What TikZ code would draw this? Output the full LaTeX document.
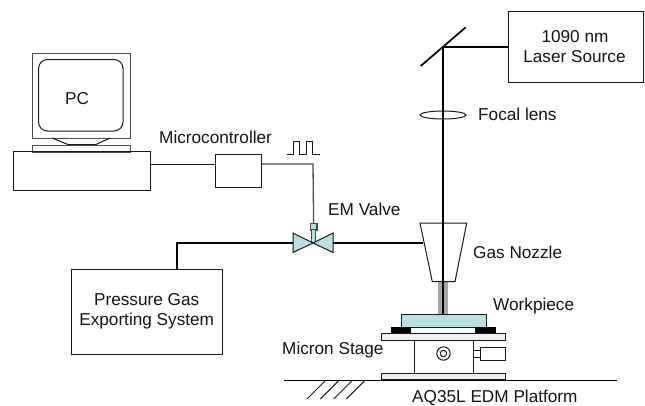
\documentclass[tikz,border=0pt]{standalone}
\usepackage{fontspec}
\setmainfont{Liberation Sans}
\tikzset{
  thin line/.style={draw=black!90,line width=1pt},
  grey line/.style={draw=black!70,line width=1.3pt},
  thick line/.style={draw=black,line width=2.3pt},
  lbl/.style={inner sep=0pt,font=\fontsize{17.2}{20}\selectfont,text=black!92},
  teal fill/.style={fill=tealc,draw=black!90,line width=1pt},
  boxn/.style={draw=black!90,line width=1pt,inner sep=0pt,anchor=north west},
}
\definecolor{tealc}{HTML}{B9DFE1}
\begin{document}
\begin{tikzpicture}[x=1pt,y=-1pt]
\useasboundingbox (0,0) rectangle (645,405);
% PC
\node[boxn,grey line,minimum width=98pt,minimum height=85pt] (monitor) at (32,53) {};
\draw[thin line,rounded corners=9pt] (38.5,59.5) rectangle (123,131);
\node[lbl] (pc) at (77,99) {PC};
\draw[thin line] (52,138) -- (68,144.5) -- (96,144.5) -- (110,138);
\node[boxn,grey line,minimum width=98pt,minimum height=7pt] (monbase) at (32,144.5) {};
\node[boxn,minimum width=137pt,minimum height=39pt] (cpu) at (12.5,151) {};
% Microcontroller
\node[boxn,minimum width=46.3pt,minimum height=32.7pt] (mcu) at (214.7,154.3) {};
\node[lbl,anchor=west] (mculbl) at (159,137.5) {Microcontroller};
\draw[thin line] (cpu.east |- 0,164) coordinate (c1) -- (mcu.west |- c1);
% valve
\coordinate (vc) at (313,243);
\node[boxn,grey line,fill=tealc,minimum width=6.5pt,minimum height=6.5pt] (vtop) at (309.7,223) {};
\draw[grey line] (mcu.east |- c1) -- (313,164) -- (vtop.north);
\draw[draw=black!70,line width=1pt,fill=tealc] (311,229.5) rectangle (315,243);
\draw[teal fill] (vc) -- (293,233) -- (293,252.5) -- cycle;
\draw[teal fill] (vc) -- (333,233) -- (333,252.5) -- cycle;
\node[lbl,anchor=west] (emv) at (328,209) {EM Valve};
% pulse
\draw[thin line] (286.7,154.3) -- (293.3,154.3) -- (293.3,141) -- (299.3,141) -- (299.3,154.3) -- (306.7,154.3) -- (306.7,141) -- (312.7,141) -- (312.7,154.3) -- (319.5,154.3);
% Pressure
\node[boxn,minimum width=150.7pt,minimum height=85.3pt] (press) at (71,268.7) {};
\node[lbl] (presslbl1) at (146.7,299.3) {Pressure Gas};
\node[lbl] (presslbl2) at (146.7,320.7) {Exporting System};
\draw[thick line] (176.7,268.7) -- (176.7,242.8) -- (293,242.8);
\draw[thick line] (333,242.8) -- (423,242.8);
% laser
\node[boxn,minimum width=135pt,minimum height=71pt] (laser) at (508.3,10.7) {};
\node[lbl] (laserlbl1) at (575,37) {1090 nm};
\node[lbl] (laserlbl2) at (574.5,57) {Laser Source};
\coordinate (mirror) at (443,47);
\draw[draw=black,line width=1.7pt] (420.7,66) -- (465.7,27.3);
\fill[black!35] (438.3,282) rectangle (447.9,313.5);
\draw[thick line] (laser.west |- mirror) -- (mirror) -- (443,313.5);
% lens
\draw[thin line] (443,115) ellipse (23pt and 4pt);
\node[lbl,anchor=west] (lens) at (478,114.5) {Focal lens};
% nozzle
\draw[thin line] (420,223) -- (466.7,223) -- (455,281.7) -- (432.3,281.7) -- cycle;
\node[lbl,anchor=west] (noz) at (473,252.7) {Gas Nozzle};
% stage
\node[boxn,fill=tealc,minimum width=85pt,minimum height=13pt] (work) at (401,313.5) {};
\node[lbl,anchor=west] (worklbl) at (493,306.5) {Workpiece};
\fill[black] (390.5,326.5) rectangle (411,333.5);
\fill[black] (475,326.5) rectangle (495.5,333.5);
\node[boxn,minimum width=124.3pt,minimum height=6.6pt,fill=black!6] (plate1) at (381,333.4) {};
\node[boxn,minimum width=59pt,minimum height=32.7pt] (body) at (413.5,340) {};
\draw[thin line] (443.5,353.5) circle (6.7pt) circle (3.2pt);
\node[boxn,minimum width=7pt,minimum height=7pt] (knob) at (472.5,350) {};
\node[boxn,minimum width=25.8pt,minimum height=13.3pt] (motor) at (479.5,346.7) {};
\node[boxn,minimum width=124.3pt,minimum height=6.6pt,fill=black!6] (plate2) at (381,372.7) {};
\node[lbl,anchor=west] (stagelbl) at (282,350.5) {Micron Stage};
% ground
\draw[draw=black,line width=1pt] (284,380) -- (617,380);
\foreach \x in {325,338.3,351.7,364.3}{\draw[thin line] (\x,381) -- (\x-18,399);}
\node[lbl,anchor=west] (plat) at (412,397.5) {AQ35L EDM Platform};
\end{tikzpicture}
\end{document}
